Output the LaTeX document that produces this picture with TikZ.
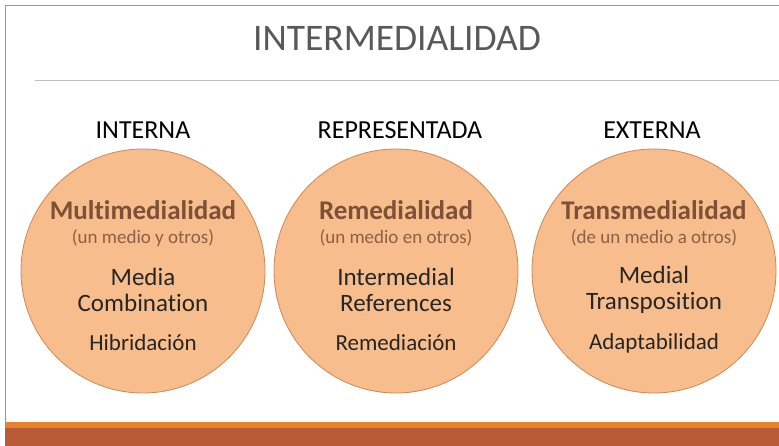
\documentclass[tikz,border=0pt]{standalone}
\usepackage{fontspec}
\setmainfont{Carlito}[Ligatures={NoCommon}]
\definecolor{peach}{RGB}{248,189,140}
\definecolor{peachline}{RGB}{205,135,85}
\definecolor{titlegray}{RGB}{89,89,89}
\definecolor{brownbold}{RGB}{125,80,55}
\definecolor{brownsub}{RGB}{140,95,70}
\definecolor{darktext}{RGB}{38,38,38}
\definecolor{barorange}{RGB}{230,130,45}
\definecolor{barbrown}{RGB}{185,90,55}
\tikzset{bubble/.style={circle, draw=peachline, fill=peach, line width=0.8pt, minimum size=244pt, inner sep=0pt},
  colhead/.style={text=black, font=\fontsize{26}{30}\selectfont},
  mainterm/.style={text=brownbold, font=\bfseries\fontsize{27}{30}\selectfont},
  glossline/.style={text=brownsub, font=\fontsize{19}{22}\selectfont},
  engterm/.style={text=darktext, align=center, font=\fontsize{25}{26}\selectfont},
  spanterm/.style={text=darktext, font=\fontsize{23}{26}\selectfont}}

\begin{document}
\begin{tikzpicture}[x=1pt,y=-1pt]
  \useasboundingbox (0,0) rectangle (779,446);
  \fill[white] (0,0) rectangle (779,446);
  % frame and title
  \draw[gray!80, line width=1pt] (5,446) -- (5,6) -- (779,6);
  \node[text=titlegray, font=\fontsize{37.5}{42}\selectfont] (title) at (397,38) {INTERMEDIALIDAD};
  \draw[gray!50, line width=0.8pt] (35,80) -- (779,80);
  % bottom bars
  \fill[barorange] (5,422) rectangle (779,428);
  \fill[barbrown] (5,428) rectangle (779,446);
  % columns
  \node[colhead] (hint) at (143,130) {INTERNA};
  \node[colhead] (hrep) at (400,130) {REPRESENTADA};
  \node[colhead] (hext) at (652,130) {EXTERNA};
  \node[bubble] (cint) at (143,271) {};
  \node[bubble] (crep) at (396,271) {};
  \node[bubble] (cext) at (654,271) {};
  \node[mainterm]  (multi) at (143,210) {Multimedialidad};
  \node[glossline] (gmulti) at (143,238) {(un medio y otros)};
  \node[engterm]   (tmulti) at (143,290) {Media\\Combination};
  \node[spanterm]  (smulti) at (143,343) {Hibridación};
  \node[mainterm]  (reme) at (396,210) {Remedialidad};
  \node[glossline] (greme) at (396,238) {(un medio en otros)};
  \node[engterm]   (treme) at (396,290) {Intermedial\\References};
  \node[spanterm]  (sreme) at (396,343) {Remediación};
  \node[mainterm]  (trans) at (654,210) {Transmedialidad};
  \node[glossline] (gtrans) at (654,238) {(de un medio a otros)};
  \node[engterm]   (ttrans) at (654,290) {Medial\\Transposition};
  \node[spanterm]  (strans) at (654,343) {Adaptabilidad};
\end{tikzpicture}
\end{document}
